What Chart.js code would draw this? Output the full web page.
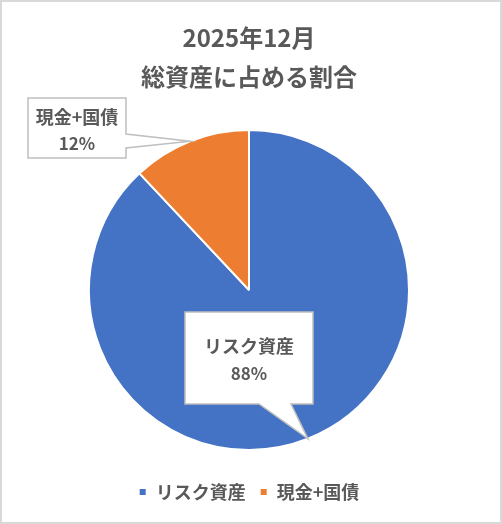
<!DOCTYPE html>
<html><head><meta charset="utf-8">
<script src="https://cdn.jsdelivr.net/npm/chart.js@4"></script>
<style>html,body{margin:0;padding:0;background:#fff}canvas{display:block}</style>
</head><body>
<canvas id="c" width="502" height="524"></canvas>
<script>
const titleLines = ['2025年12月', '総資産に占める割合'];
const categories = ['リスク資産', '現金+国債'];
const values = [88, 12];
const colors = ['#4472C4', '#ED7D31'];

const FONT = '"Noto Sans CJK JP", "Noto Sans", sans-serif';
const TEXT = '#595959';

// callout layout (relative to pie centre)
const calloutLayout = [
  {dx: 0, dy: 68, w: 128, h: 92, side: 'bottom', t1: 10, t2: 42, ly: -12, vy: 16},
  {dx: -172, dy: -162, w: 98, h: 60, side: 'right', t1: 6, t2: 20, ly: -11, vy: 16}
];

const calloutPlugin = {
  id: 'callouts',
  afterDraw(chart) {
    const ctx = chart.ctx;
    const meta = chart.getDatasetMeta(0);
    const data = chart.data.datasets[0].data;
    const total = data.reduce((a, b) => a + b, 0);
    meta.data.forEach((arc, i) => {
      const p = arc.getProps(['x', 'y', 'startAngle', 'endAngle', 'outerRadius'], true);
      const mid = (p.startAngle + p.endAngle) / 2;
      const tx = p.x + p.outerRadius * Math.cos(mid);
      const ty = p.y + p.outerRadius * Math.sin(mid);
      const L = calloutLayout[i];
      const cx = p.x + L.dx, cy = p.y + L.dy;
      const l = cx - L.w / 2, r = cx + L.w / 2, t = cy - L.h / 2, b = cy + L.h / 2;
      ctx.save();
      ctx.beginPath();
      if (L.side === 'bottom') {
        ctx.moveTo(l, t); ctx.lineTo(r, t); ctx.lineTo(r, b);
        ctx.lineTo(cx + L.t2, b); ctx.lineTo(tx, ty); ctx.lineTo(cx + L.t1, b);
        ctx.lineTo(l, b);
      } else {
        ctx.moveTo(l, t); ctx.lineTo(r, t); ctx.lineTo(r, cy + L.t1);
        ctx.lineTo(tx, ty); ctx.lineTo(r, cy + L.t2);
        ctx.lineTo(r, b); ctx.lineTo(l, b);
      }
      ctx.closePath();
      ctx.fillStyle = '#ffffff';
      ctx.fill();
      ctx.lineWidth = 1.5;
      ctx.strokeStyle = '#BFBFBF';
      ctx.stroke();
      ctx.fillStyle = TEXT;
      ctx.textAlign = 'center';
      ctx.textBaseline = 'middle';
      ctx.font = 'bold 18px ' + FONT;
      ctx.fillText(chart.data.labels[i], cx, cy + L.ly);
      ctx.font = 'bold 17px ' + FONT;
      ctx.fillText(Math.round(data[i] / total * 100) + '%', cx, cy + L.vy);
      ctx.restore();
    });
  }
};

const borderPlugin = {
  id: 'outerBorder',
  beforeDraw(chart) {
    const ctx = chart.ctx;
    ctx.save();
    ctx.fillStyle = '#fff';
    ctx.fillRect(0, 0, chart.width, chart.height);
    ctx.restore();
  },
  afterDraw(chart) {
    const ctx = chart.ctx;
    ctx.save();
    ctx.strokeStyle = '#D9D9D9';
    ctx.lineWidth = 2;
    ctx.strokeRect(1, 1, chart.width - 2, chart.height - 2);
    ctx.restore();
  }
};

new Chart(document.getElementById('c'), {
  type: 'pie',
  data: {
    labels: categories,
    datasets: [{
      data: values,
      backgroundColor: colors,
      borderColor: '#ffffff',
      borderWidth: 2,
      radius: 160
    }]
  },
  options: {
    responsive: false,
    animation: false,
    layout: {padding: {left: 0, right: 4, top: 0, bottom: 13}},
    plugins: {
      title: {
        display: true,
        text: titleLines,
        color: TEXT,
        font: {family: FONT, size: 24, weight: 'bold', lineHeight: 1.625},
        padding: {top: 18, bottom: 15}
      },
      legend: {
        position: 'bottom',
        labels: {
          color: TEXT,
          font: {family: FONT, size: 18, weight: 'bold'},
          boxWidth: 8,
          boxHeight: 8,
          padding: 14
        }
      },
      tooltip: {enabled: false}
    }
  },
  plugins: [borderPlugin, calloutPlugin]
});
</script>
</body></html>
